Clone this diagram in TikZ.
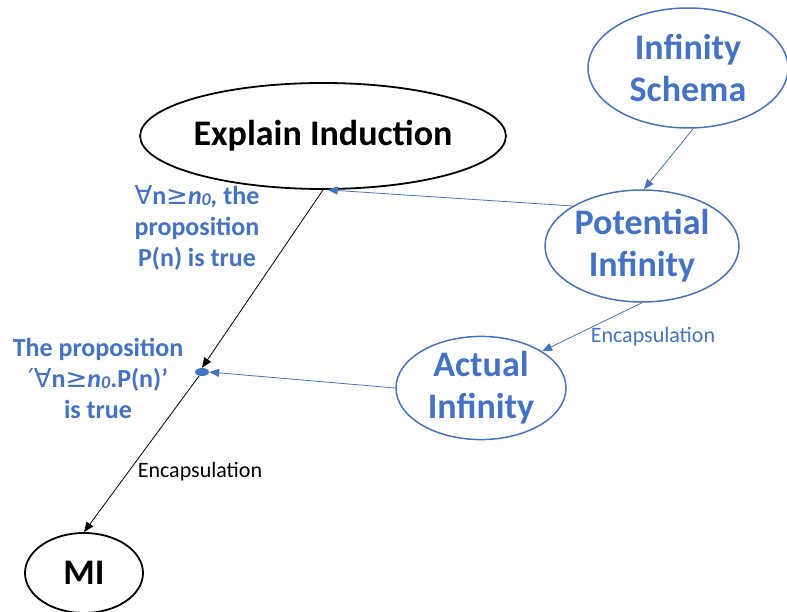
\documentclass[tikz,border=0pt]{standalone}
\usepackage{fontspec}
\setmainfont{Carlito}
\newfontfamily\symfam{DejaVu Sans}
\usetikzlibrary{shapes.geometric,arrows.meta}
\definecolor{officeblue}{HTML}{4472C4}
\tikzset{
  oval/.style={ellipse, draw, inner sep=0pt, align=center, font=\fontsize{36}{42}\selectfont\bfseries},
  blueoval/.style={oval, draw=officeblue, text=officeblue, line width=1.5pt},
  blackoval/.style={oval, draw=black, line width=1.8pt},
  bluelink/.style={draw=officeblue, line width=0.8pt, -{Triangle[length=10pt,width=8pt]}},
  blacklink/.style={draw=black, line width=0.8pt, -{Triangle[length=10pt,width=8pt]}},
  sidenote/.style={text=officeblue, align=center, font=\fontsize{26}{31}\selectfont\bfseries},
  edgenote/.style={font=\fontsize{22}{24}\selectfont}
}
\newcommand{\nzero}{\textit{n\raisebox{-1pt}{\fontsize{18}{18}\selectfont 0}}}
\begin{document}
\begin{tikzpicture}[x=1pt,y=-1pt]
  \useasboundingbox (0,0) rectangle (787,612);

  % concept ovals
  \node[blackoval, minimum width=340pt, minimum height=106pt] (ei) at (323,136) {Explain Induction};
  \node[blueoval, minimum width=200pt, minimum height=120pt] (is) at (688,68) {Infinity\\Schema};
  \node[blueoval, minimum width=194pt, minimum height=112pt] (pi) at (642,246) {Potential\\Infinity};
  \node[blueoval, minimum width=170pt, minimum height=102pt] (ai) at (481,388) {Actual\\Infinity};
  \node[blackoval, minimum width=118pt, minimum height=80pt] (mi) at (84,573) {MI};

  % junction point on the induction line
  \node[ellipse, fill=officeblue, minimum width=14pt, minimum height=8pt, inner sep=0pt] (dot) at (202,372) {};

  % side statements
  \node[sidenote] (s1) at (197,228) {{\symfam\mdseries ∀}n{\symfam\mdseries ≥}\nzero\textit{,} the\\proposition\\P(n) is true};
  \node[sidenote] (s2) at (98,378) {The proposition\\{\symfam\mdseries ′∀}n{\symfam\mdseries ≥}\nzero.P(n)’\\is true};

  % edge labels
  \node[edgenote, text=officeblue] (enc1) at (653,337) {Encapsulation};
  \node[edgenote] (enc2) at (200,472) {Encapsulation};

  % connectors
  \draw[bluelink] (is.-85) -- (pi.88);
  \draw[bluelink] (pi.150) -- (ei.-85);
  \draw[bluelink] (pi.south) -- (ai.31);
  \draw[bluelink] (ai.west) -- (dot.east);
  \draw[blacklink] (ei.south) -- (dot.north);
  \draw[blacklink] (dot) -- (mi.north);
\end{tikzpicture}
\end{document}
